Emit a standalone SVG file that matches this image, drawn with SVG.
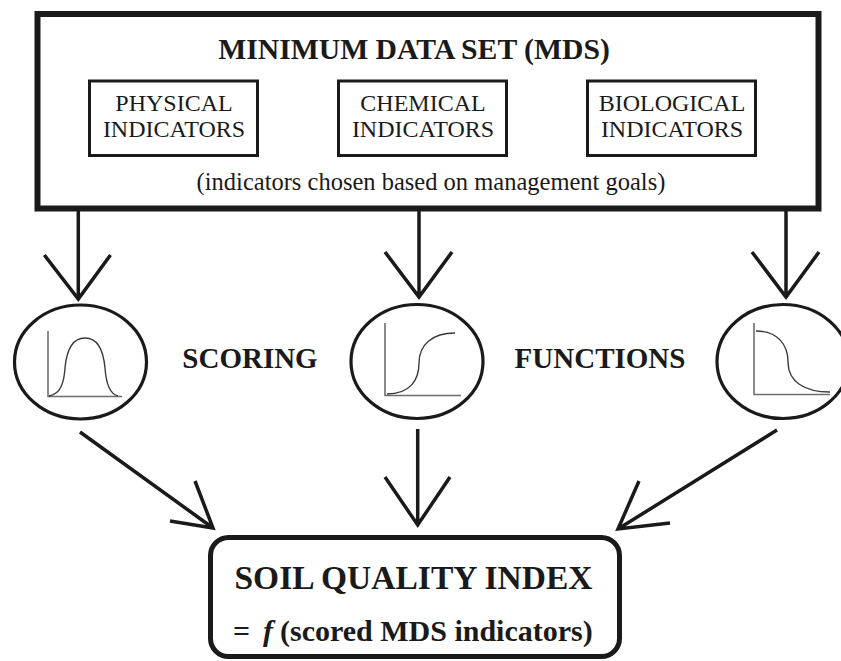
<svg xmlns="http://www.w3.org/2000/svg" width="841" height="661" viewBox="0 0 841 661">
<style>
  .serif { font-family: "Liberation Serif", "Times New Roman", serif; fill: #1a1a1a; }
  .bold { font-weight: bold; }
  .box { fill: none; stroke: #1a1a1a; }
  .arrow { fill: none; stroke: #1a1a1a; stroke-width: 3.5; stroke-linecap: butt; stroke-linejoin: miter; }
  .axis { fill: none; stroke: #6e6e6e; stroke-width: 1.6; }
  .curve { fill: none; stroke: #3a3a3a; stroke-width: 1.4; }
  .ell { fill: #fff; stroke: #1a1a1a; stroke-width: 3.2; }
</style>
<rect width="841" height="661" fill="#fff"/>

<g id="mds">
  <rect class="box" x="37.5" y="14" width="781" height="194.5" stroke-width="6"/>
  <text class="serif bold" x="414" y="59" font-size="29.7" text-anchor="middle">MINIMUM DATA SET (MDS)</text>
  <text class="serif" x="431" y="190" font-size="24.5" text-anchor="middle">(indicators chosen based on management goals)</text>
</g>

<g id="physical">
  <rect class="box" x="89.5" y="81" width="168" height="74.5" stroke-width="3"/>
  <text class="serif" x="174" y="111" font-size="24" text-anchor="middle">PHYSICAL</text>
  <text class="serif" x="174" y="137" font-size="24" text-anchor="middle">INDICATORS</text>
</g>

<g id="chemical">
  <rect class="box" x="338.5" y="81" width="168" height="74.5" stroke-width="3"/>
  <text class="serif" x="423" y="111" font-size="24" text-anchor="middle">CHEMICAL</text>
  <text class="serif" x="423" y="137" font-size="24" text-anchor="middle">INDICATORS</text>
</g>

<g id="biological">
  <rect class="box" x="587.5" y="81" width="168" height="74.5" stroke-width="3"/>
  <text class="serif" x="672" y="111" font-size="24" text-anchor="middle">BIOLOGICAL</text>
  <text class="serif" x="672" y="137" font-size="24" text-anchor="middle">INDICATORS</text>
</g>

<g id="connectors">
  <!-- top arrows -->
  <path class="arrow" d="M78.3 211 V299 M44.3 255 L78.3 299 L110.5 255"/>
  <path class="arrow" d="M419 211 V297 M385 252 L419 297 L452 252"/>
  <path class="arrow" d="M786 211 V297 M752 252 L786 297 L819 252"/>
  <!-- bottom arrows -->
  <path class="arrow" d="M80 432 L213 528 M195 481 L213 528 L170 521"/>
  <path class="arrow" d="M417.7 429 V525 M385 477 L417.7 525 L450 477"/>
  <path class="arrow" d="M777 430 L618 529 M639 481 L618 529 L670 523"/>
</g>

<g id="scoring-physical">
  <ellipse class="ell" cx="80.5" cy="362" rx="66" ry="57"/>
  <path class="axis" d="M48 331 V396.5 H122"/>
  <path class="curve" d="M49 396 C61 394 64 382 65 368 C67 346 74 338 85 338 C96 338 103 346 105 368 C106 382 109 394 118 396"/>
</g>

<g id="scoring-chemical">
  <ellipse class="ell" cx="417" cy="361.5" rx="66" ry="57"/>
  <path class="axis" d="M385 323 V395.5 H461"/>
  <path class="curve" d="M387 394 C410 394 419 380 419 363 C419 345 432 333 455 333"/>
</g>

<g id="scoring-biological">
  <ellipse class="ell" cx="783" cy="361.5" rx="66" ry="57"/>
  <path class="axis" d="M754 323 V394.5 H830"/>
  <path class="curve" d="M756 331 C778 331 788 345 788 362 C788 382 805 392 830 392"/>
</g>

<g id="labels">
  <text class="serif bold" x="250" y="368" font-size="29" text-anchor="middle">SCORING</text>
  <text class="serif bold" x="600" y="368" font-size="29" text-anchor="middle">FUNCTIONS</text>
</g>

<g id="sqi">
  <rect class="box" x="210.5" y="537.5" width="409" height="119" rx="18" ry="18" stroke-width="5"/>
  <text class="serif bold" x="413.5" y="589" font-size="33.5" text-anchor="middle">SOIL QUALITY INDEX</text>
  <text class="serif bold" y="641" font-size="30"><tspan x="233">=</tspan><tspan x="263" font-style="italic">f</tspan><tspan x="280">(scored MDS indicators)</tspan></text>
</g>
</svg>
